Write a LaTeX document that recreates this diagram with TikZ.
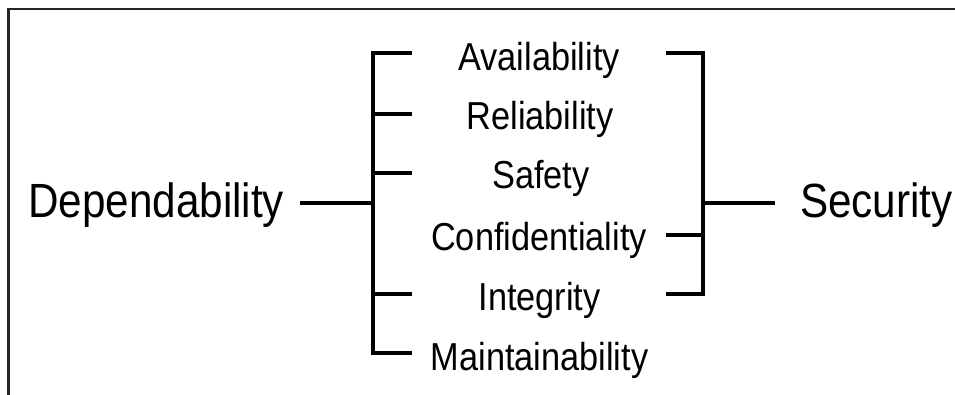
\documentclass[tikz,border=0pt]{standalone}
\usepackage{fontspec}
\setmainfont{Liberation Sans}[FakeStretch=0.88]
\begin{document}
\begin{tikzpicture}[x=1pt,y=-1pt,
  bigtxt/.style={font=\fontsize{48}{52}\selectfont, inner sep=0pt, anchor=base west},
  midtxt/.style={font=\fontsize{39}{42}\selectfont, inner sep=0pt, anchor=base},
  brk/.style={line width=3.3pt, line join=miter, black},
  frame/.style={line width=2.2pt, black!85}]
\useasboundingbox (0,0) rectangle (955,395);
% frame (top and left edges visible)
\draw[frame] (8.5,395) -- (8.5,9) -- (955,9);
% texts
\node[bigtxt] (dep) at (28,218) {Dependability};
\node[bigtxt] (sec) at (800,218) {Security};
\node[midtxt] (av) at (539,71) {Availability};
\node[midtxt] (re) at (540,130) {Reliability};
\node[midtxt] (sa) at (541,189) {Safety};
\node[midtxt] (co) at (539,251) {Confidentiality};
\node[midtxt] (in) at (539.5,310) {Integrity};
\node[midtxt] (ma) at (539.5,370) {Maintainability};
% left bracket coordinates
\coordinate (lt) at (373,53);
\coordinate (lb) at (373,353);
\coordinate (lj) at (373,203);
\coordinate (ld) at (300,203);
\coordinate (l1) at (412,53);
\coordinate (l2) at (412,114);
\coordinate (l3) at (412,173);
\coordinate (l5) at (412,294);
\coordinate (l6) at (412,353);
% right bracket coordinates
\coordinate (rt) at (703,53);
\coordinate (rb) at (703,294);
\coordinate (rj) at (703,203);
\coordinate (rs) at (775,203);
\coordinate (r1) at (666,53);
\coordinate (r4) at (666,235);
\coordinate (r5) at (666,294);
% left bracket
\draw[brk] (l1) -- (lt) -- (lb) -- (l6);
\draw[brk] (l2) -- (l2 -| lt);
\draw[brk] (l3) -- (l3 -| lt);
\draw[brk] (l5) -- (l5 -| lt);
\draw[brk] (ld) -- (lj);
% right bracket
\draw[brk] (r1) -- (rt) -- (rb) -- (r5);
\draw[brk] (r4) -- (r4 -| rt);
\draw[brk] (rj) -- (rs);
\end{tikzpicture}
\end{document}
